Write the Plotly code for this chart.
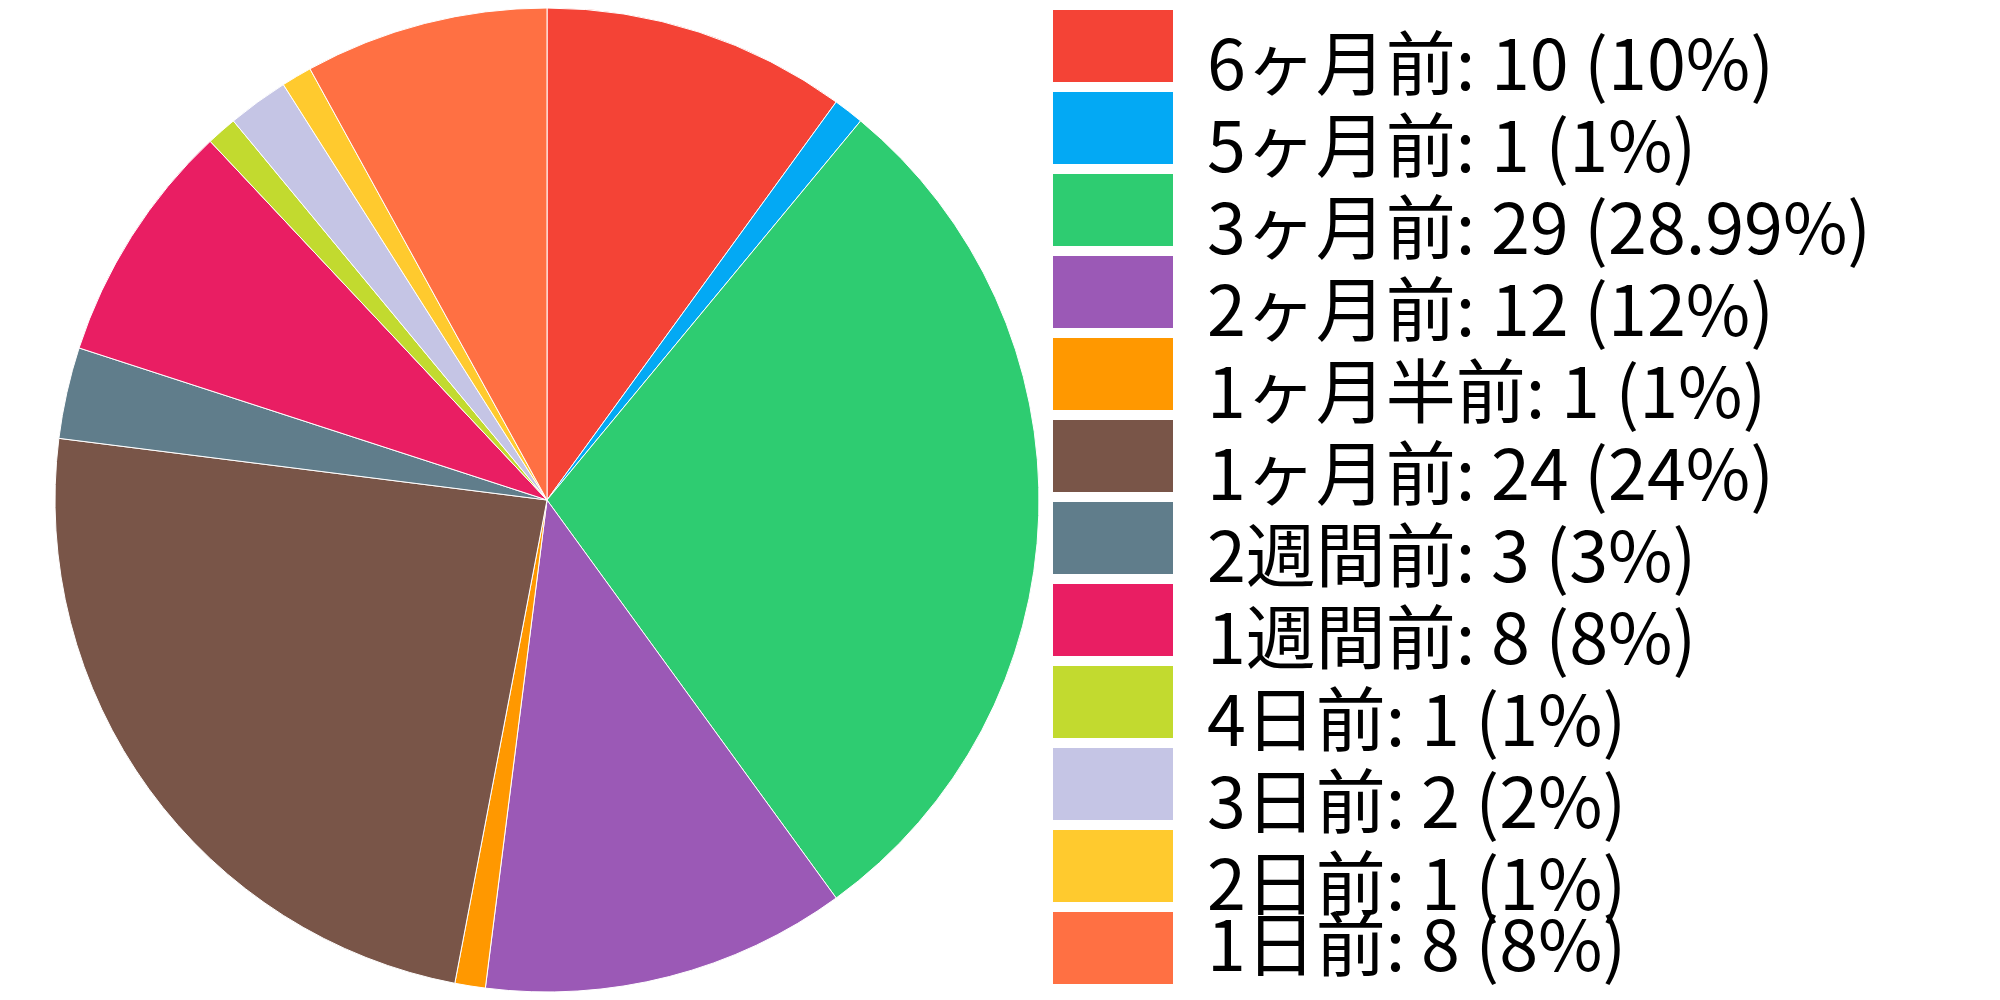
import plotly.graph_objects as go

categories = ["6ヶ月前", "5ヶ月前", "3ヶ月前", "2ヶ月前", "1ヶ月半前", "1ヶ月前",
              "2週間前", "1週間前", "4日前", "3日前", "2日前", "1日前"]
values = [10, 1, 29, 12, 1, 24, 3, 8, 1, 2, 1, 8]
pct_labels = ["10%", "1%", "28.99%", "12%", "1%", "24%", "3%", "8%", "1%", "2%", "1%", "8%"]
colors = ["#F44336", "#03A9F4", "#2ECC71", "#9B59B6", "#FF9800", "#795548",
          "#607D8B", "#E91E63", "#C2DA2F", "#C5C5E5", "#FFCA2E", "#FF7043"]

legend_text = [f"{c}: {v} ({p})" for c, v, p in zip(categories, values, pct_labels)]
positions = list(range(len(categories)))
FONT = "Noto Sans CJK JP, Noto Sans, sans-serif"

W, H = 1984, 984

fig = go.Figure()
fig.add_trace(go.Pie(
    labels=categories, values=values, sort=False, direction="clockwise", rotation=0,
    marker=dict(colors=colors, line=dict(color="white", width=1)),
    textinfo="none", showlegend=False,
    domain=dict(x=[47 / W, 1031 / W], y=[0.0, 1.0]),
))
fig.add_trace(go.Bar(
    y=positions, x=[1] * len(categories), orientation="h", width=72 / 82,
    marker=dict(color=colors, line=dict(width=0)),
    xaxis="x", yaxis="y", showlegend=False, hoverinfo="skip",
))
# invisible helper so the overlaying axis carrying the last label is drawn
fig.add_trace(go.Scatter(
    y=positions[-1:], x=[0], mode="markers", marker=dict(opacity=0),
    xaxis="x", yaxis="y2", showlegend=False, hoverinfo="skip",
))

top_val = -38 / 82
y_range = [top_val + H / 82, top_val]
common = dict(
    anchor="x", side="right", range=y_range, autorange=False, tickmode="array",
    tickfont=dict(size=70, family=FONT, color="black"),
    showgrid=False, zeroline=False, showline=False, ticks="",
    ticklabelstandoff=33,
)
fig.update_layout(
    width=W, height=H,
    margin=dict(l=0, r=0, t=0, b=0),
    paper_bgcolor="white", plot_bgcolor="white",
    font=dict(family=FONT, color="black"),
    xaxis=dict(domain=[1045 / W, 1165 / W], range=[0, 1], visible=False,
               fixedrange=True),
    yaxis=dict(domain=[0, 1], tickvals=positions[:-1], ticktext=legend_text[:-1],
               ticklabelshift=-19, **common),
    yaxis2=dict(overlaying="y", tickvals=positions[-1:], ticktext=legend_text[-1:],
                ticklabelshift=2, **common),
)

fig.write_html("out.html")
